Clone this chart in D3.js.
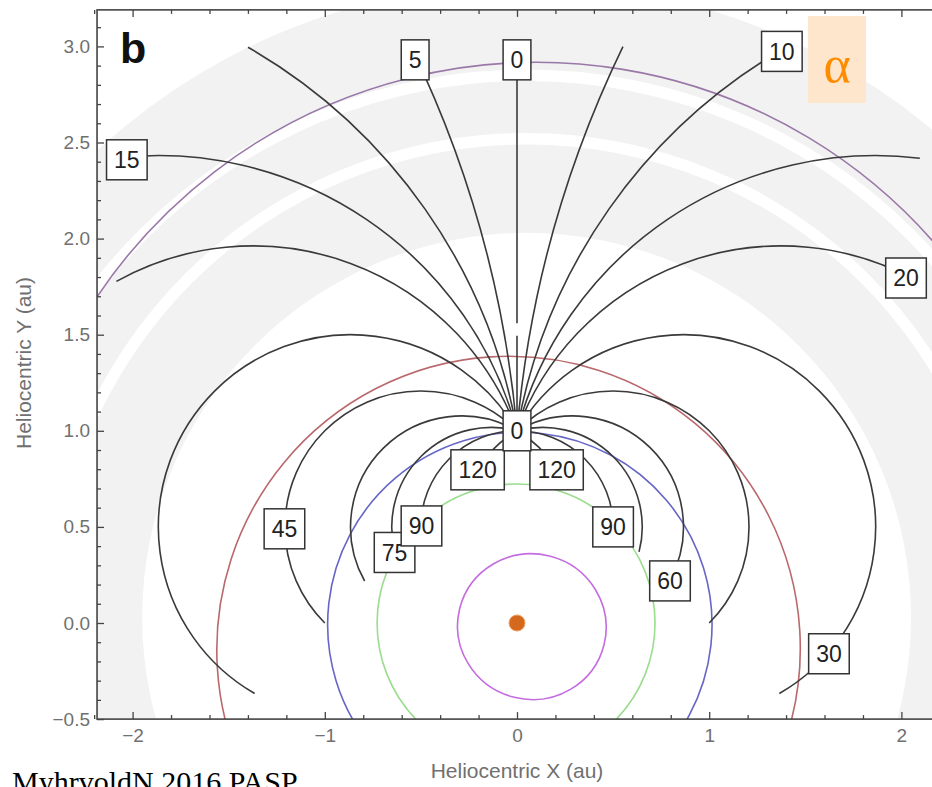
<!DOCTYPE html>
<html><head><meta charset="utf-8">
<script src="https://cdn.jsdelivr.net/npm/d3@7"></script>
<style>body{margin:0;background:#fff} svg{display:block}</style>
</head><body><svg id="c" width="932" height="787"></svg>
<script>
// ---- data ----
const phaseAngles = [5, 10, 15, 20, 30, 45, 60, 75, 90, 120];          // contour values (deg)
const curveEndX   = [0.56, 1.40, 2.096, 2.08, 1.367, 1.0, 0.79, 0.635, 0.5, 0.208]; // |x| of contour end (au)
const curveEndY   = [2.995, 2.995, 2.418, 1.77, -0.37, 0.0, 0.22, 0.37, 0.5, 0.80]; // y of contour end (au)
const zeroLineStops = [1.0, 1.495, 1.56, 2.93];                          // the 0 contour (x = 0), two pieces
const labelText = ["5","10","15","20","30","45","60","75","90","90","120","120","0","0"];
const labelX    = [-0.53, 1.378, -2.03, 2.024, 1.623, -1.21, 0.796, -0.637, -0.497, 0.50, -0.205, 0.206, 0, 0];
const labelY    = [2.93, 2.974, 2.41, 1.795, -0.16, 0.49, 0.219, 0.367, 0.505, 0.50, 0.797, 0.797, 2.93, 1.0];
const orbitNames  = ["Mercury", "Venus", "Earth", "Mars", "Ceres"];
const orbitA      = [0.387, 0.723, 1.0, 1.524, 2.757];
const orbitE      = [0.2056, 0.0068, 0.0167, 0.0934, 0.0685];
const orbitPeri   = [166, 0, 152, 72, -121];
const orbitColors = ["#c46ce0", "#9bdc8f", "#6666c6", "#b9686c", "#9a78a8"];
const beltInner = [2.0, 2.52, 2.85];
const beltOuter = [2.46, 2.79, 3.3];
const beltCenter = [0.05, 0.03];
const xTicks = [-2, -1, 0, 1, 2];
const yTicks = [-0.5, 0, 0.5, 1, 1.5, 2, 2.5, 3];
const xMinor = [-2.2,-1.8,-1.6,-1.4,-1.2,-0.8,-0.6,-0.4,-0.2,0.2,0.4,0.6,0.8,1.2,1.4,1.6,1.8,2.2];
const yMinor = [-0.4,-0.3,-0.2,-0.1,0.1,0.2,0.3,0.4,0.6,0.7,0.8,0.9,1.1,1.2,1.3,1.4,1.6,1.7,1.8,1.9,2.1,2.2,2.3,2.4,2.6,2.7,2.8,2.9,3.1];

// ---- layout ----
const svg = d3.select("#c");
const k = 192.2, sx = 517, sy = 623;
const x = d3.scaleLinear().domain([-2.185, 2.2]).range([sx - 2.185 * k, sx + 2.2 * k]);
const y = d3.scaleLinear().domain([-0.5, 3.19]).range([sy + 0.5 * k, sy - 3.19 * k]);
const L = x(-2.185), R = x(2.2), T = y(3.19), B = y(-0.5);
const px = v => x(v) - x(0);

svg.append("defs").append("clipPath").attr("id", "clip")
  .append("rect").attr("x", L).attr("y", T).attr("width", R - L).attr("height", B - T);
const plot = svg.append("g").attr("clip-path", "url(#clip)");

// asteroid belt shading
const arc = d3.arc().startAngle(0).endAngle(2 * Math.PI);
beltInner.forEach((r0, i) => {
  plot.append("path")
    .attr("transform", `translate(${x(beltCenter[0])},${y(beltCenter[1])})`)
    .attr("d", arc.innerRadius(px(r0)).outerRadius(px(beltOuter[i]))())
    .attr("fill", "#f2f2f2");
});

// orbits
orbitA.forEach((a, i) => {
  const e = orbitE[i], w = orbitPeri[i] * Math.PI / 180;
  const c = a * e, b = a * Math.sqrt(1 - e * e);
  plot.append("ellipse")
    .attr("transform", `translate(${x(-c * Math.cos(w))},${y(-c * Math.sin(w))}) rotate(${-orbitPeri[i]})`)
    .attr("rx", px(a)).attr("ry", px(b))
    .attr("fill", "none").attr("stroke", orbitColors[i]).attr("stroke-width", 1.6);
});

// Sun
plot.append("circle").attr("cx", x(0)).attr("cy", y(0)).attr("r", 8)
  .attr("fill", "#d4681c").attr("stroke", "#eea060").attr("stroke-width", 1);

// phase-angle contours: circular arcs through Sun (0,0) and Earth (0,1)
const curveColor = "#3a3a3a";
phaseAngles.forEach((al, i) => {
  [1, -1].forEach(s => {
    const rad = al * Math.PI / 180;
    const cxm = s * 0.5 * Math.cos(rad) / Math.sin(rad), rr = 0.5 / Math.sin(rad);
    const t0 = Math.atan2(0.5, -cxm);
    let t1 = Math.atan2(curveEndY[i] - 0.5, s * curveEndX[i] - cxm);
    if (s === 1 && t1 > t0) t1 -= 2 * Math.PI;
    if (s === -1 && t1 < t0) t1 += 2 * Math.PI;
    const p = d3.path();
    p.arc(x(cxm), y(0.5), px(rr), -t0, -t1, s === -1);
    plot.append("path").attr("d", p.toString()).attr("fill", "none")
      .attr("stroke", curveColor).attr("stroke-width", 1.6);
  });
});
for (let j = 0; j < zeroLineStops.length; j += 2) {
  plot.append("line").attr("x1", x(0)).attr("x2", x(0))
    .attr("y1", y(zeroLineStops[j])).attr("y2", y(zeroLineStops[j + 1]))
    .attr("stroke", curveColor).attr("stroke-width", 1.6);
}

// contour labels
labelText.forEach((t, i) => {
  const g = svg.append("g").attr("transform", `translate(${x(labelX[i])},${y(labelY[i])})`);
  const r = g.append("rect");
  const tx = g.append("text").text(t).attr("text-anchor", "middle").attr("dy", "0.36em")
    .attr("font-family", "Liberation Sans, Arial, sans-serif").attr("font-size", 23).attr("fill", "#222");
  const w = tx.node().getComputedTextLength() + 15;
  r.attr("x", -w / 2).attr("y", -20).attr("width", w).attr("height", 40)
    .attr("fill", "#fff").attr("stroke", "#333").attr("stroke-width", 1.5);
});

// axes
const tickFont = "Liberation Sans, Arial, sans-serif";
function styleAxis(g) {
  g.select(".domain").remove();
  g.selectAll("line").attr("stroke", "#444").attr("stroke-width", 1.3);
  g.selectAll("text").attr("fill", "#707070").attr("font-size", 19).attr("font-family", tickFont);
}
svg.append("g").attr("transform", `translate(0,${B})`)
  .call(d3.axisBottom(x).tickValues(xTicks).tickFormat(d3.format("d")).tickSize(-7).tickPadding(9)).call(styleAxis);
svg.append("g").attr("transform", `translate(0,${B})`)
  .call(d3.axisBottom(x).tickValues(xMinor).tickFormat("").tickSize(-4)).call(styleAxis);
svg.append("g").attr("transform", `translate(0,${T})`)
  .call(d3.axisTop(x).tickValues(xTicks).tickFormat("").tickSize(-7)).call(styleAxis);
svg.append("g").attr("transform", `translate(0,${T})`)
  .call(d3.axisTop(x).tickValues(xMinor).tickFormat("").tickSize(-4)).call(styleAxis);
svg.append("g").attr("transform", `translate(${L},0)`)
  .call(d3.axisLeft(y).tickValues(yTicks).tickFormat(d3.format(".1f")).tickSize(-7).tickPadding(7)).call(styleAxis);
svg.append("g").attr("transform", `translate(${L},0)`)
  .call(d3.axisLeft(y).tickValues(yMinor).tickFormat("").tickSize(-4)).call(styleAxis);
svg.append("rect").attr("x", L).attr("y", T).attr("width", R - L).attr("height", B - T)
  .attr("fill", "none").attr("stroke", "#444").attr("stroke-width", 1.6);

// titles
svg.append("text").attr("x", x(0)).attr("y", 778).attr("text-anchor", "middle")
  .attr("font-family", tickFont).attr("font-size", 21).attr("fill", "#707070").text("Heliocentric X (au)");
svg.append("text").attr("transform", "translate(31,363) rotate(-90)").attr("text-anchor", "middle")
  .attr("font-family", tickFont).attr("font-size", 21).attr("fill", "#707070").text("Heliocentric Y (au)");

// panel letter
svg.append("text").attr("x", 120).attr("y", 63).attr("font-family", "Liberation Sans, Arial, sans-serif")
  .attr("font-weight", "bold").attr("font-size", 43).attr("fill", "#111").text("b");

// alpha tag
svg.append("rect").attr("x", 808).attr("y", 16).attr("width", 58).attr("height", 87).attr("fill", "#fde6cc");
svg.append("text").attr("x", 837).attr("y", 82).attr("text-anchor", "middle")
  .attr("font-family", "Liberation Serif, Times New Roman, serif").attr("font-size", 52).attr("fill", "#ff8c00").text("α");

// source note (cut off by the bottom edge, as in the reference)
svg.append("text").attr("x", 12).attr("y", 792).attr("font-family", "Liberation Serif, Times New Roman, serif")
  .attr("font-size", 30).attr("fill", "#000").text("MyhrvoldN 2016 PASP");
</script></body></html>
